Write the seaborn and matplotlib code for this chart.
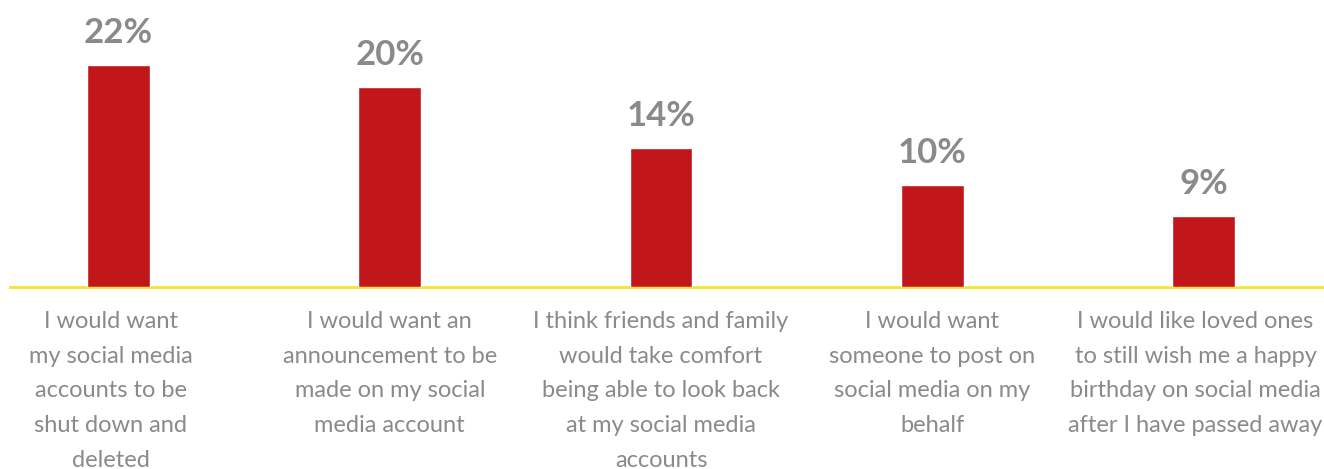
import matplotlib
matplotlib.use("Agg")
import matplotlib.pyplot as plt
import matplotlib.transforms as mtransforms
import seaborn as sns
import pandas as pd

# ---- data ----
categories = [
    "I would want\nmy social media\naccounts to be\nshut down and\ndeleted",
    "I would want an\nannouncement to be\nmade on my social\nmedia account",
    "I think friends and family\nwould take comfort\nbeing able to look back\nat my social media\naccounts",
    "I would want\nsomeone to post on\nsocial media on my\nbehalf",
    "I would like loved ones\nto still wish me a happy\nbirthday on social media\nafter I have passed away",
]
bar_heights = [22, 19.8, 13.8, 10.1, 7.0]
pct_labels = ["22%", "20%", "14%", "10%", "9%"]

BAR_COLOR = "#C1161A"
LINE_COLOR = "#F5E62B"
TEXT_COLOR = "#8A8A8A"

sns.set_style("white")
plt.rcParams["font.family"] = ["Lato", "DejaVu Sans"]

W, H = 1324, 469
fig = plt.figure(figsize=(W / 100, H / 100), dpi=100)
ax = fig.add_axes([10 / W, (H - 287) / H, (W - 10) / W, 287 / H])

df = pd.DataFrame({"category": categories, "value": bar_heights})
sns.barplot(data=df, x="category", y="value", color=BAR_COLOR, saturation=1,
            width=0.232, ax=ax, zorder=3)

ax.set_xlim(-0.4, 4.444)
ax.set_ylim(0, 28.4)
ax.set_xlabel("")
ax.set_ylabel("")
ax.set_yticks([])

for s in ["top", "right", "left"]:
    ax.spines[s].set_visible(False)
ax.spines["bottom"].set_color(LINE_COLOR)
ax.spines["bottom"].set_linewidth(2)
ax.spines["bottom"].set_zorder(2)

ax.tick_params(axis="x", length=0, pad=17, labelsize=17, labelcolor=TEXT_COLOR)
label_shift_px = [-8, 0, 0, 0, -8]
for tick, dx in zip(ax.xaxis.get_major_ticks(), label_shift_px):
    lbl = tick.label1
    lbl.set_linespacing(1.82)
    lbl.set_horizontalalignment("center")
    if dx:
        lbl.set_transform(lbl.get_transform() +
                          mtransforms.ScaledTranslation(dx / 100, 0, fig.dpi_scale_trans))

for i, (v, lab) in enumerate(zip(bar_heights, pct_labels)):
    ax.annotate(lab, (i, v), xytext=(0, 15.8), textcoords="offset points",
                ha="center", va="baseline", fontsize=25, fontweight="bold",
                color=TEXT_COLOR, annotation_clip=False)

fig.savefig("out.png", dpi=100, facecolor="white")
